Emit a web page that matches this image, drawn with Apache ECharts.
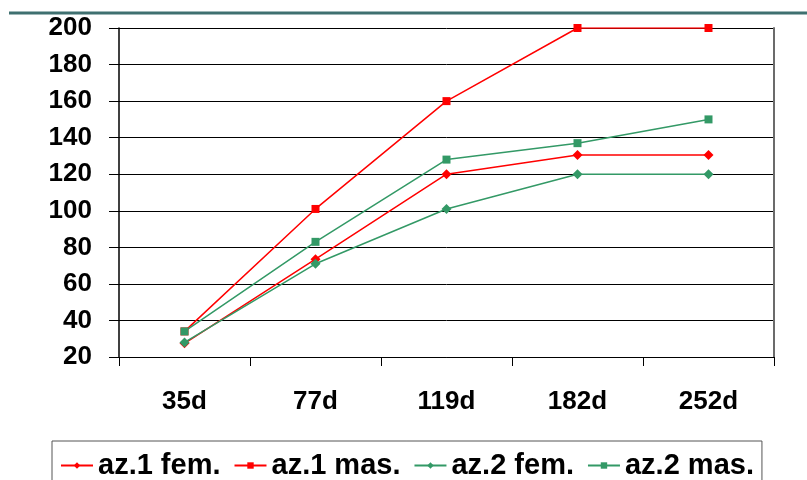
<!DOCTYPE html>
<html>
<head>
<meta charset="utf-8">
<script src="https://cdn.jsdelivr.net/npm/echarts@6/dist/echarts.min.js"></script>
<style>
  html, body { margin: 0; padding: 0; background: #fff; }
  #chart { width: 807px; height: 480px; }
</style>
</head>
<body>
<div id="chart"></div>
<script>
// Sampling ages
const categories = ['35d', '77d', '119d', '182d', '252d'];

// Series names
const seriesNames = ['az.1 fem.', 'az.1 mas.', 'az.2 fem.', 'az.2 mas.'];

// Values per group
const az1Fem = [27.5, 73.5, 120, 130.5, 130.5];
const az1Mas = [34, 101, 160, 200, 200];
const az2Fem = [28, 71, 101, 120, 120];
const az2Mas = [34, 83, 128, 137, 150];

// Y axis scale
const yMin = 20;
const yMax = 200;
const yStep = 20;

const RED = '#ff0000';
const GREEN = '#339966';
const FONT = '"Liberation Sans", Arial, sans-serif';

function lineSeries(name, data, color, symbol) {
  return {
    name: name,
    type: 'line',
    data: data,
    symbol: symbol,
    symbolSize: symbol === 'diamond' ? 10 : 8,
    showSymbol: true,
    lineStyle: { color: color, width: 1.5 },
    itemStyle: { color: color, borderWidth: 0 },
    emphasis: { disabled: true },
    animation: false
  };
}

const chart = echarts.init(document.getElementById('chart'), null, { renderer: 'canvas' });

chart.setOption({
  backgroundColor: '#ffffff',
  animation: false,
  graphic: [
    {
      type: 'rect',
      shape: { x: 9, y: 11.5, width: 798, height: 3 },
      style: { fill: '#3f7070' },
      silent: true
    }
  ],
  grid: { left: 119, right: 33, top: 28, bottom: 123, containLabel: false },
  legend: {
    data: seriesNames,
    left: 52,
    top: 441,
    orient: 'horizontal',
    itemWidth: 32,
    itemHeight: 8,
    itemGap: 13,
    padding: [10, 8, 10, 8],
    borderColor: '#555555',
    borderWidth: 1,
    textStyle: { fontFamily: FONT, fontSize: 29, fontWeight: 'bold', color: '#000' }
  },
  xAxis: {
    type: 'category',
    data: categories,
    boundaryGap: true,
    axisLine: { show: true, lineStyle: { color: '#000', width: 1 } },
    axisTick: { show: true, length: 9, inside: false, alignWithLabel: false, lineStyle: { color: '#000' } },
    axisLabel: { margin: 32, fontFamily: FONT, fontSize: 26, fontWeight: 'bold', color: '#000' },
    splitLine: { show: false }
  },
  yAxis: [
    {
      type: 'value',
      min: yMin,
      max: yMax,
      interval: yStep,
      axisLine: { show: true, lineStyle: { color: '#000', width: 1.5 } },
      axisTick: { show: true, length: 10, inside: false, lineStyle: { color: '#000' } },
      axisLabel: { margin: 27, fontFamily: FONT, fontSize: 26, fontWeight: 'bold', color: '#000' },
      splitLine: { show: true, lineStyle: { color: '#000', width: 1 } }
    },
    {
      type: 'value',
      position: 'right',
      min: yMin,
      max: yMax,
      interval: yStep,
      axisLine: { show: true, lineStyle: { color: '#6b6b6b', width: 2 } },
      axisTick: { show: false },
      axisLabel: { show: false },
      splitLine: { show: false }
    }
  ],
  series: [
    lineSeries(seriesNames[0], az1Fem, RED, 'diamond'),
    lineSeries(seriesNames[1], az1Mas, RED, 'rect'),
    lineSeries(seriesNames[2], az2Fem, GREEN, 'diamond'),
    lineSeries(seriesNames[3], az2Mas, GREEN, 'rect')
  ]
});
</script>
</body>
</html>
